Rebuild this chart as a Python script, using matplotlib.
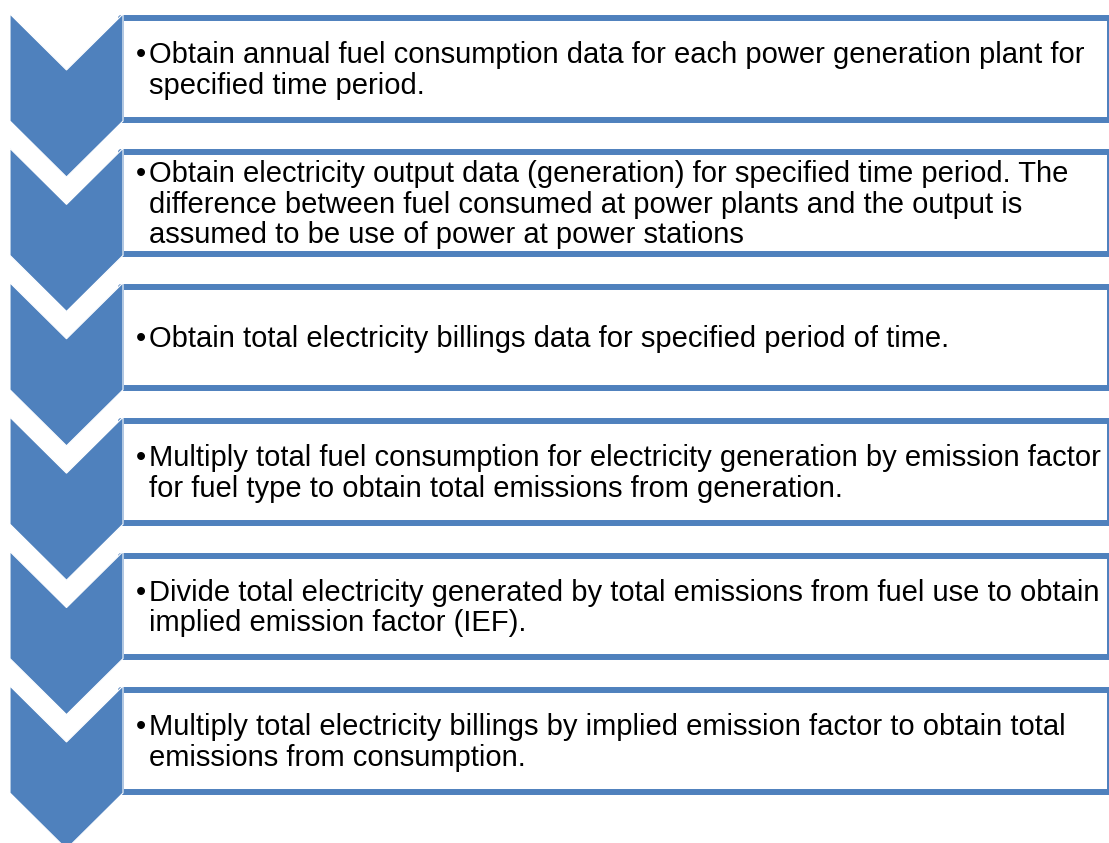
import matplotlib
matplotlib.use("Agg")
from matplotlib import pyplot as plt
from matplotlib.patches import Polygon, Rectangle

# step texts, one list of lines per step
steps = [
    ["Obtain annual fuel consumption data for each power generation plant for",
     "specified time period."],
    ["Obtain electricity output data (generation) for specified time period. The",
     "difference between fuel consumed at power plants and the output is",
     "assumed to be use of power at power stations"],
    ["Obtain total electricity billings data for specified period of time."],
    ["Multiply total fuel consumption for electricity generation by emission factor",
     "for fuel type to obtain total emissions from generation."],
    ["Divide total electricity generated by total emissions from fuel use to obtain",
     "implied emission factor (IEF)."],
    ["Multiply total electricity billings by implied emission factor to obtain total",
     "emissions from consumption."],
]

blue = "#4F81BD"
W, H = 1109, 843

fig = plt.figure(figsize=(W / 100, H / 100), dpi=100)
ax = fig.add_axes([0, 0, 1, 1])
ax.set_xlim(0, W)
ax.set_ylim(H, 0)
ax.axis("off")

step = 134.4
x0, x1 = 10, 123
xm = (x0 + x1) / 2
body = 107
depth = 56
fs = 21

for k, lines in enumerate(steps):
    t = 14 + step * k

    # box behind the chevron
    box = Rectangle((121, t + 4), 989, 101.5, facecolor="white",
                    edgecolor=blue, linewidth=4.3, joinstyle="round", zorder=1)
    ax.add_patch(box)

    # chevron
    pts = [(x0, t), (xm, t + depth), (x1, t), (x1, t + body),
           (xm, t + body + depth), (x0, t + body)]
    ax.add_patch(Polygon(pts, closed=True, facecolor=blue,
                         edgecolor="white", linewidth=0.8, zorder=2))

    center = t + 54.5
    n = len(lines)
    for i, line in enumerate(lines):
        yb = center + 10 + (i - (n - 1) / 2) * 30.5
        if i == 0:
            ax.text(136, yb, "\u2022", fontsize=fs, family="Liberation Sans",
                    va="baseline", ha="left", zorder=3)
        ax.text(149, yb, line, fontsize=fs, family="Liberation Sans",
                va="baseline", ha="left", zorder=3)

fig.savefig("out.png", dpi=100)
